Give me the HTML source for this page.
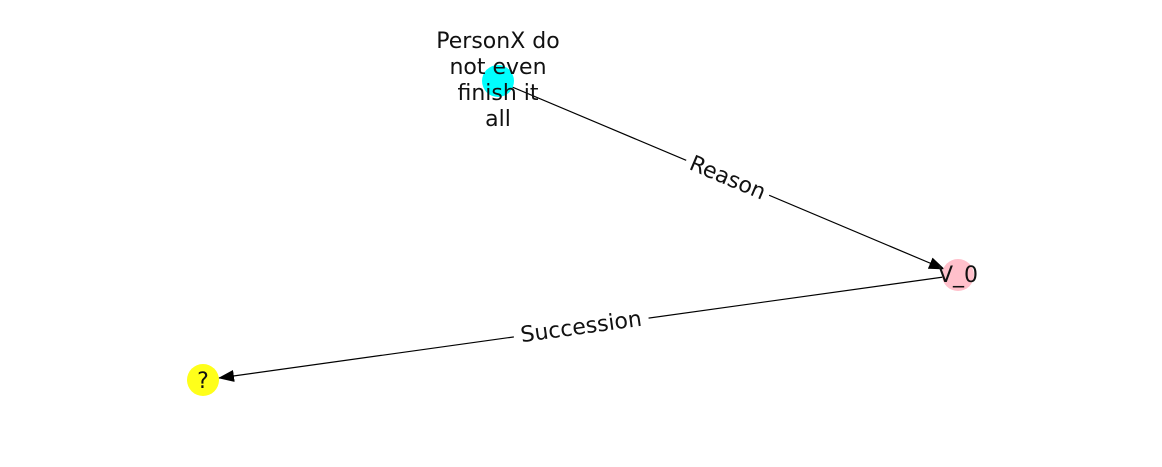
<!DOCTYPE html>
<html><head><meta charset="utf-8"><style>
html,body{margin:0;padding:0;background:#fff;}
svg text{font-family:"DejaVu Sans","Liberation Sans",sans-serif;font-size:22px;fill:#111;}
</style></head><body>
<svg width="1162" height="462" viewBox="0 0 1162 462" xmlns="http://www.w3.org/2000/svg">
<defs><marker id="a" markerWidth="16" markerHeight="12" refX="15" refY="6" orient="auto" markerUnits="userSpaceOnUse"><path d="M0,0 L16,6 L0,12 z" fill="#000"/></marker></defs>
<line x1="498" y1="81" x2="944" y2="269" stroke="#000" stroke-width="1.2" marker-end="url(#a)"/>
<line x1="958" y1="275" x2="219" y2="378" stroke="#000" stroke-width="1.2" marker-end="url(#a)"/>
<circle cx="498" cy="81" r="16" fill="#00ffff"/>
<circle cx="958" cy="275" r="16" fill="#ffc0cb"/>
<circle cx="203" cy="380" r="16" fill="#ffff1a"/>
<g transform="translate(728,177) rotate(22.9)"><rect x="-45" y="-14" width="90" height="28" fill="#fff"/><text x="0" y="8" text-anchor="middle">Reason</text></g>
<g transform="translate(581,326) rotate(-7.9)"><rect x="-68" y="-14" width="136" height="28" fill="#fff"/><text x="0" y="8" text-anchor="middle">Succession</text></g>
<text x="498" y="48" text-anchor="middle">PersonX do</text>
<text x="498" y="74" text-anchor="middle">not even</text>
<text x="498" y="100" text-anchor="middle">finish it</text>
<text x="498" y="126" text-anchor="middle">all</text>
<text x="958" y="282" text-anchor="middle">V_0</text>
<text x="203" y="388" text-anchor="middle">?</text>
</svg>
</body></html>
